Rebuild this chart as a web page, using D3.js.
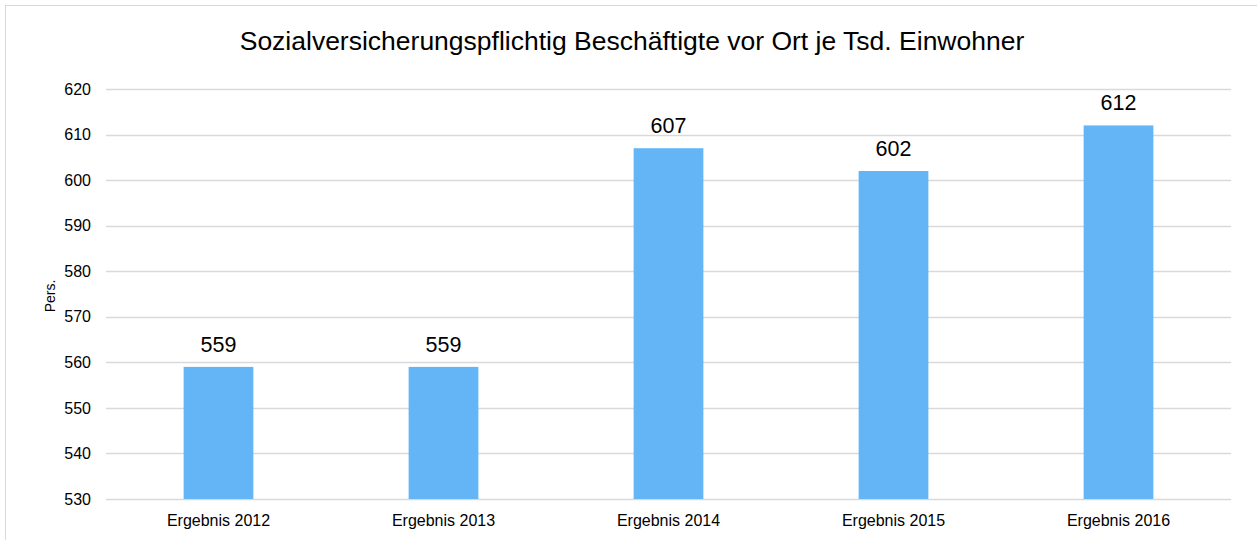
<!DOCTYPE html>
<html>
<head>
<meta charset="utf-8">
<script src="https://cdn.jsdelivr.net/npm/d3@7"></script>
<style>
  html, body { margin: 0; padding: 0; background: #fff; }
  svg { display: block; font-family: Arial, "Liberation Sans", Helvetica, sans-serif; }
</style>
</head>
<body>
<svg id="chart" width="1257" height="540"></svg>
<script>
// Chart data
const categories = ["Ergebnis 2012", "Ergebnis 2013", "Ergebnis 2014", "Ergebnis 2015", "Ergebnis 2016"];
const values = [559, 559, 607, 602, 612];
const yTicks = [530, 540, 550, 560, 570, 580, 590, 600, 610, 620];
const titleText = "Sozialversicherungspflichtig Beschäftigte vor Ort je Tsd. Einwohner";
const yAxisTitle = "Pers.";

const svg = d3.select("#chart");
const W = 1257, H = 540;
const margin = { left: 106, right: 26, top: 89, bottom: 41 };
const FONT = "Arial, 'Liberation Sans', sans-serif";

// Outer frame
svg.append("rect")
  .attr("x", 5.5).attr("y", 5.5)
  .attr("width", W + 10).attr("height", H + 10)
  .attr("fill", "#fff")
  .attr("stroke", "#d9d9d9")
  .attr("stroke-width", 1);

const x = d3.scaleBand()
  .domain(categories)
  .range([margin.left, W - margin.right])
  .paddingInner(0.69)
  .paddingOuter(0.345);

const y = d3.scaleLinear()
  .domain([530, 620])
  .range([H - margin.bottom, margin.top]);

// Gridlines
svg.append("g")
  .selectAll("line")
  .data(yTicks)
  .join("line")
  .attr("x1", margin.left).attr("x2", W - margin.right)
  .attr("y1", d => Math.round(y(d)) + 0.5)
  .attr("y2", d => Math.round(y(d)) + 0.5)
  .attr("stroke", "#d9d9d9")
  .attr("stroke-width", 1.3);

// Y axis tick labels
const yAxis = d3.axisLeft(y).tickValues(yTicks).tickSize(0).tickPadding(15);
const gy = svg.append("g")
  .attr("transform", `translate(${margin.left},0)`)
  .call(yAxis);
gy.select(".domain").remove();
gy.selectAll("text")
  .attr("font-size", 16)
  .attr("fill", "#000")
  .attr("font-family", FONT);

// Bars
svg.append("g")
  .selectAll("rect")
  .data(values)
  .join("rect")
  .attr("x", (d, i) => x(categories[i]))
  .attr("width", x.bandwidth())
  .attr("y", d => y(d))
  .attr("height", d => y(530) - y(d))
  .attr("fill", "#64b5f6");

// Value labels
svg.append("g")
  .selectAll("text")
  .data(values)
  .join("text")
  .attr("x", (d, i) => x(categories[i]) + x.bandwidth() / 2)
  .attr("y", d => y(d) - 15)
  .attr("text-anchor", "middle")
  .attr("font-size", 21.5)
  .attr("fill", "#000")
  .text(d => d);

// X axis category labels
const xAxis = d3.axisBottom(x).tickSize(0);
const gx = svg.append("g")
  .attr("transform", `translate(0,${H - margin.bottom})`)
  .call(xAxis);
gx.select(".domain").remove();
gx.selectAll("text")
  .attr("y", 27)
  .attr("dy", 0)
  .attr("font-size", 16)
  .attr("fill", "#000")
  .attr("font-family", FONT);

// Title
svg.append("text")
  .attr("x", 632)
  .attr("y", 50)
  .attr("text-anchor", "middle")
  .attr("font-size", 26.5)
  .attr("fill", "#000")
  .text(titleText);

// Y axis title
svg.append("text")
  .attr("transform", `translate(55,${(margin.top + H - margin.bottom) / 2 + 2}) rotate(-90)`)
  .attr("text-anchor", "middle")
  .attr("font-size", 14)
  .attr("fill", "#000")
  .text(yAxisTitle);
</script>
</body>
</html>
